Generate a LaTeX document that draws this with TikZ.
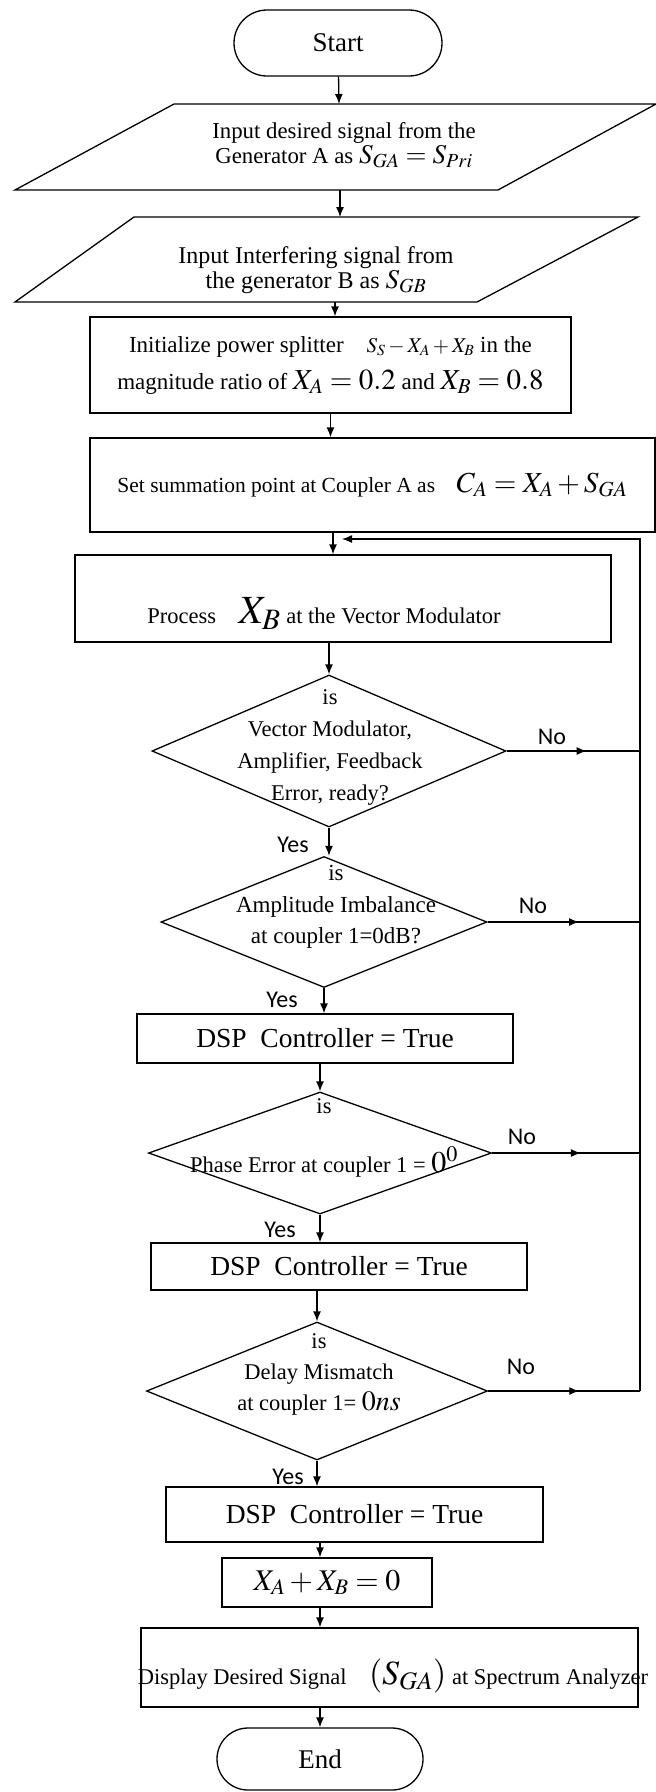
\documentclass[tikz,border=0pt]{standalone}
\usepackage{mathptmx}
\usepackage[no-math]{fontspec}
\setmainfont{Liberation Serif}
\setsansfont{Carlito}
\usetikzlibrary{arrows.meta,shapes.geometric,shapes.misc,decorations.markings}
\newcommand{\sizedmath}[2]{{\fontsize{#1}{#1}\selectfont$#2$}}

\begin{document}
\begin{tikzpicture}[x=1pt,y=-1pt,>={Latex[length=10pt,width=8pt]},line width=1.3pt]
\tikzstyle{every node}=[font=\fontsize{22.5}{31.5}\selectfont,align=center,inner sep=0pt]
\tikzstyle{terminal}=[draw,rounded rectangle,font=\fontsize{27}{27}\selectfont]
\tikzstyle{stepbox}=[draw,rectangle]
\tikzstyle{decision}=[draw,diamond]
\tikzstyle{dspbox}=[stepbox,minimum width=376,font=\fontsize{27.5}{27.5}\selectfont]
\tikzstyle{answer}=[font=\sffamily\fontsize{24}{24}\selectfont]
\tikzstyle{midarrow}=[postaction={decorate},decoration={markings,mark=at position 0.6 with {\arrow{Latex[length=10pt,width=8pt]}}}]
\useasboundingbox (0,0) rectangle (656,1792);

% start and the two inputs
\node[terminal,minimum width=208,minimum height=66] (start) at (338,43) {Start};
\draw (174,104) -- (656,104) -- (498,190) -- (15,190) -- cycle;
\coordinate (in1top) at (339,104);
\coordinate (in1bot) at (340,190);
\node[font=\fontsize{22.8}{25}\selectfont] (in1) at (344,145)
  {Input desired signal from the\\Generator A as \sizedmath{27}{S_{GA}=S_{Pri}}};
\draw (134,217) -- (638,217) -- (477,302) -- (15,302) -- cycle;
\coordinate (in2top) at (340,217);
\coordinate (in2bot) at (335,302);
\node[font=\fontsize{24}{22}\selectfont] (in2) at (316,270)
  {Input Interfering signal from\\the generator B as \sizedmath{27}{S_{GB}}};

% splitter, coupler, vector modulator
\node[stepbox,minimum width=481,minimum height=96,font=\fontsize{23}{37}\selectfont] (init) at (330.5,365)
  {Initialize power splitter\quad \sizedmath{21}{S_{S}-X_{A}+X_{B}}\ in the\\
   magnitude ratio of \sizedmath{29}{X_{A}=0.2}\ and\ \sizedmath{29}{X_{B}=0.8}};
\node[stepbox,minimum width=565,minimum height=94,font=\fontsize{21.5}{21.5}\selectfont] (coupler) at (372.5,485)
  {Set summation point at Coupler A as\quad\sizedmath{29}{C_{A}=X_{A}+S_{GA}}};
\node[stepbox,minimum width=536,minimum height=87] (process) at (343,598.5) {};
\node[anchor=base] (processtext) at (324,623) {Process\quad\sizedmath{40}{X_{B}}\ at the Vector Modulator};

% checks
\node[decision,minimum width=354,minimum height=152] (check1) at (329,751) {};
\node[font=\fontsize{22.5}{32}\selectfont] (check1text) at (330,747)
  {is\\Vector Modulator,\\Amplifier, Feedback\\Error, ready?};
\node[decision,minimum width=326,minimum height=131] (check2) at (324,922) {};
\node[font=\fontsize{23}{31.5}\selectfont] (check2text) at (336,907)
  {is\\Amplitude Imbalance\\at coupler 1=0dB?};
\node[dspbox,minimum height=49] (dsp1) at (325,1038.5) {DSP\ \ Controller = True};
\node[decision,minimum width=343,minimum height=122] (check3) at (320,1153) {};
\node[font=\fontsize{22.5}{29.5}\selectfont] (check3text) at (324,1138)
  {is\\[29.5pt]Phase Error at coupler 1 = \sizedmath{30}{0^{0}}};
\node[dspbox,minimum height=47] (dsp2) at (339,1266.5) {DSP\ \ Controller = True};
\node[decision,minimum width=341,minimum height=138] (check4) at (317,1391) {};
\node[font=\fontsize{22.5}{31}\selectfont] (check4text) at (319,1374)
  {is\\Delay Mismatch\\at coupler 1= \sizedmath{28}{0ns}};

% result
\node[dspbox,minimum width=377,minimum height=55] (dsp3) at (354.5,1514.5) {DSP\ \ Controller = True};
\node[stepbox,minimum width=210,minimum height=49] (cancel) at (327,1582.5) {\sizedmath{30}{X_{A}+X_{B}=0}};
\node[stepbox,minimum width=497,minimum height=79] (display) at (389.5,1667.5) {};
\node (displaytext) at (393,1676) {Display Desired Signal\quad\sizedmath{34}{(S_{GA})}\ at Spectrum Analyzer};
\node[terminal,minimum width=206,minimum height=62] (end) at (320,1759) {End};

% yes / no
\node[answer] (yes1) at (293,845) {Yes};
\node[answer] (yes2) at (282,1000) {Yes};
\node[answer] (yes3) at (280,1230) {Yes};
\node[answer] (yes4) at (288,1477) {Yes};
\node[answer] (no1) at (552,737) {No};
\node[answer] (no2) at (533,906) {No};
\node[answer] (no3) at (522,1137) {No};
\node[answer] (no4) at (521,1367) {No};

% main flow
\coordinate (merge) at ([xshift=-10pt]process.north);
\coordinate (rail) at (640,539);
\coordinate (loopin) at (342,539);
\draw[->] (start) -- (in1top);
\draw[->] (in1bot) -- (in2top);
\draw[->] (in2bot) -- (in2bot |- init.north);
\draw[->] (init.south) -- (init.south |- coupler.north);
\draw[->] (merge |- coupler.south) -- (merge);
\draw[->] (check1.north |- process.south) -- (check1.north);
\draw[->] (check1.south) -- (check1.south |- check2.north);
\draw[->] (check2.south) -- (check2.south |- dsp1.north);
\draw[->] (check3.north |- dsp1.south) -- (check3.north);
\draw[->] (check3.south) -- (check3.south |- dsp2.north);
\draw[->] (check4.north |- dsp2.south) -- (check4.north);
\draw[->] (check4.south) -- (check4.south |- dsp3.north);
\draw[->] (dsp3.south -| end.north) -- (end.north |- cancel.north);
\draw[->] (cancel.south -| end.north) -- (end.north |- display.north);
\draw[->] (display.south -| end.north) -- (end.north);

% feedback loop
\draw[midarrow] (check1.east) -- (check1.east -| rail);
\draw[midarrow] (check2.east) -- (check2.east -| rail);
\draw[midarrow] (check3.east) -- (check3.east -| rail);
\draw[midarrow] (check4.east) -- (check4.east -| rail);
\draw[->] (check4.east -| rail) -- (rail) -- (loopin);
\end{tikzpicture}
\end{document}
